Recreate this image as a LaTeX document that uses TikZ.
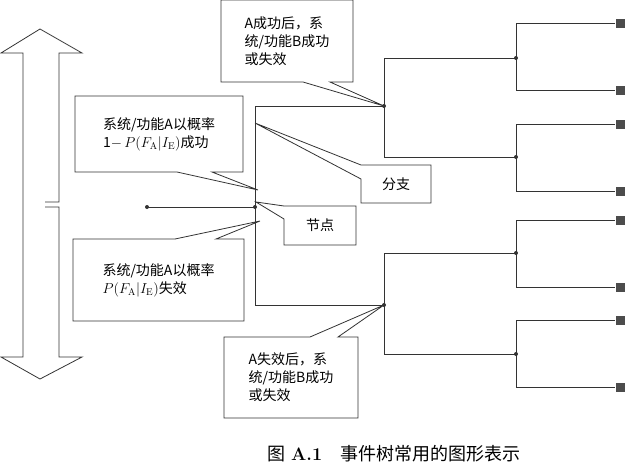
\documentclass[tikz,border=0pt]{standalone}
\usepackage{fontspec}
\newfontfamily\cjk{Noto Sans CJK SC}
\usepackage{tikz}
\usetikzlibrary{positioning}
\usetikzlibrary{backgrounds}

\tikzset{
  branch/.style={draw=black!80, line width=0.8pt},
  dot/.style={circle, fill=black!80, inner sep=0pt, minimum size=4pt},
  leaf/.style={rectangle, fill=black!70, inner sep=0pt, minimum size=9pt},
  callout/.style={draw=black!80, line width=0.8pt, fill=white},
  textbox/.style={inner sep=0pt, outer sep=0pt, align=left,
    font=\cjk\fontsize{14}{18}\selectfont},
}

\begin{document}
\begin{tikzpicture}
    [x=1pt, y=-1pt]
    \useasboundingbox (0,0) rectangle (627,466);

    % double arrow on the left
    \draw [branch] (45,202) -- (59,202) -- (59,53) -- (82,53) -- (40,29)
      -- (1,53) -- (23,53) -- (23,357) -- (1,357) -- (40,379) -- (82,357)
      -- (59,357) -- (59,207) -- (45,207);

    % tree nodes
    \node (start) [dot] at (147,207) {};
    \node (nA) [dot] at (255,207) {};
    \node (nB1) [dot] at (384,106) {};
    \node (nB2) [dot] at (384,305) {};
    \foreach \y [count=\i] in {58,157,253,354}
      \node (nC\i) [dot] at (516,\y) {};
    \foreach \y [count=\i] in {23,90,124,191,220,287,320,387}
      \node (e\i) [leaf] at (620,\y) {};

    \draw [branch] (start.center) -- (nA.center);
    \draw [branch] (nA.center) |- (nB1.center);
    \draw [branch] (nA.center) |- (nB2.center);
    \draw [branch] (nB1.center) |- (nC1.center);
    \draw [branch] (nB1.center) |- (nC2.center);
    \draw [branch] (nB2.center) |- (nC3.center);
    \draw [branch] (nB2.center) |- (nC4.center);
    \foreach \c/\a/\b in {nC1/e1/e2, nC2/e3/e4, nC3/e5/e6, nC4/e7/e8} {
      \draw [branch] (\c.center) |- (\a.west);
      \draw [branch] (\c.center) |- (\b.west);
    }

    % callout texts
    \node (t1) [textbox, minimum width=132pt, minimum height=82pt] at (287,41)
      {A成功后，系\\统/功能B成功\\或失效};
    \node (t2) [textbox, minimum width=168pt, minimum height=76pt] at (159,134)
      {系统/功能A以概率\\1$-$\,$P(F_{\mathrm{A}}|I_{\mathrm{E}})$成功};
    \node (t3) [textbox, minimum width=171pt, minimum height=82pt] at (158.5,280)
      {系统/功能A以概率\\$P(F_{\mathrm{A}}|I_{\mathrm{E}})$失效};
    \node (t4) [textbox, minimum width=70pt, minimum height=38pt] at (396,184) {分支};
    \node (t5) [textbox, minimum width=72pt, minimum height=39pt] at (320,225.5) {节点};
    \node (t6) [textbox, minimum width=134pt, minimum height=81pt] at (291,377.5)
      {A失效后，系\\统/功能B成功\\或失效};

    \coordinate (p2) at (258,190);
    \coordinate (p3) at (260,221);
    \coordinate (p4) at (255,123);
    \coordinate (p5) at (256,202);

    \begin{scope}[on background layer]
      \draw [callout] (t1.north west) -- (t1.north east) -- (t1.south east)
        -- ([xshift=-23pt]t1.south east) -- (nB1.center)
        -- ([xshift=82pt]t1.south west) -- (t1.south west) -- cycle;
      \draw [callout] (t2.north west) -- (t2.north east) -- (t2.south east)
        -- ([xshift=-31pt]t2.south east) -- (p2)
        -- ([xshift=102pt]t2.south west) -- (t2.south west) -- cycle;
      \draw [callout] (t3.south west) -- (t3.north west)
        -- ([xshift=102pt]t3.north west) -- (p3)
        -- ([xshift=-28pt]t3.north east) -- (t3.north east)
        -- (t3.south east) -- cycle;
      \draw [callout] (t4.north west) -- (t4.north east) -- (t4.south east)
        -- (t4.south west) -- ([yshift=-14pt]t4.north west) -- (p4) -- cycle;
      \draw [callout] (t5.north west) -- (t5.north east) -- (t5.south east)
        -- (t5.south west) -- ([yshift=-13pt]t5.north west) -- (p5) -- cycle;
      \draw [callout] (t6.south west) -- (t6.north west)
        -- ([xshift=86pt]t6.north west) -- (nB2.center)
        -- ([xshift=-20pt]t6.north east) -- (t6.north east)
        -- (t6.south east) -- cycle;
    \end{scope}

    % caption
    \node (cap) [inner sep=1pt, font=\fontsize{18}{20}\selectfont] at (394,454)
      {{\cjk 图}~\textbf{A.1}\quad{\cjk 事件树常用的图形表示}};
\end{tikzpicture}
\end{document}
